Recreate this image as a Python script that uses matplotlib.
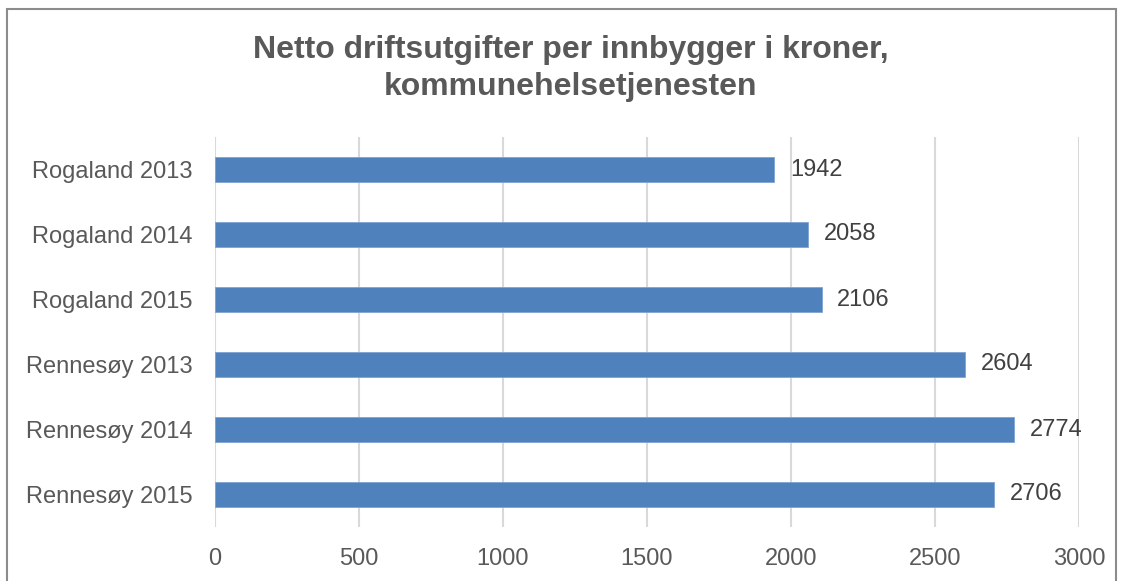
import matplotlib.pyplot as plt
import matplotlib.patches as patches

plt.rcParams['font.family'] = ['Liberation Sans', 'DejaVu Sans']

# data
labels = ['Rogaland 2013', 'Rogaland 2014', 'Rogaland 2015',
          'Rennesøy 2013', 'Rennesøy 2014', 'Rennesøy 2015']
values = [1942, 2058, 2106, 2604, 2774, 2706]
xticks = [0, 500, 1000, 1500, 2000, 2500, 3000]

W, H = 1123, 581
fig = plt.figure(figsize=(W / 100, H / 100), dpi=100)
ax = fig.add_axes([215 / W, 1 - 527 / H, (1079 - 215) / W, (527 - 137) / H])

ypos = range(len(labels))
ax.barh(ypos, values, height=0.37, color='#4F81BD', edgecolor='#7FA3D2', linewidth=0.6, zorder=3)
for y, v in zip(ypos, values):
    ax.text(v + 55, y, str(v), va='center', ha='left', fontsize=17, color='#404040')

ax.set_xlim(0, 3000)
ax.set_ylim(len(labels) - 0.5, -0.5)
ax.set_xticks(xticks)
ax.set_xticklabels([str(t) for t in xticks])
ax.set_yticks(list(ypos))
ax.set_yticklabels(labels)
ax.tick_params(axis='both', length=0, labelsize=17, labelcolor='#595959')
ax.tick_params(axis='x', pad=15)
ax.tick_params(axis='y', pad=16)
ax.xaxis.grid(True, color='#D9D9D9', linewidth=1.5, zorder=0)
for s in ax.spines.values():
    s.set_visible(False)

tx = 571 / W
fig.text(tx, 1 - 50 / H, 'Netto driftsutgifter per innbygger i kroner,',
         ha='center', va='center', fontsize=23, fontweight='bold', color='#595959')
fig.text(tx, 1 - 87 / H, 'kommunehelsetjenesten',
         ha='center', va='center', fontsize=23, fontweight='bold', color='#595959')

# chart border
fig.patches.append(patches.Rectangle((7 / W, -0.01), (1116 - 7) / W, 1 - 9 / H + 0.01,
                                     transform=fig.transFigure, fill=False,
                                     edgecolor='#8C8C8C', linewidth=1.5))

fig.savefig('out.png', dpi=100)
